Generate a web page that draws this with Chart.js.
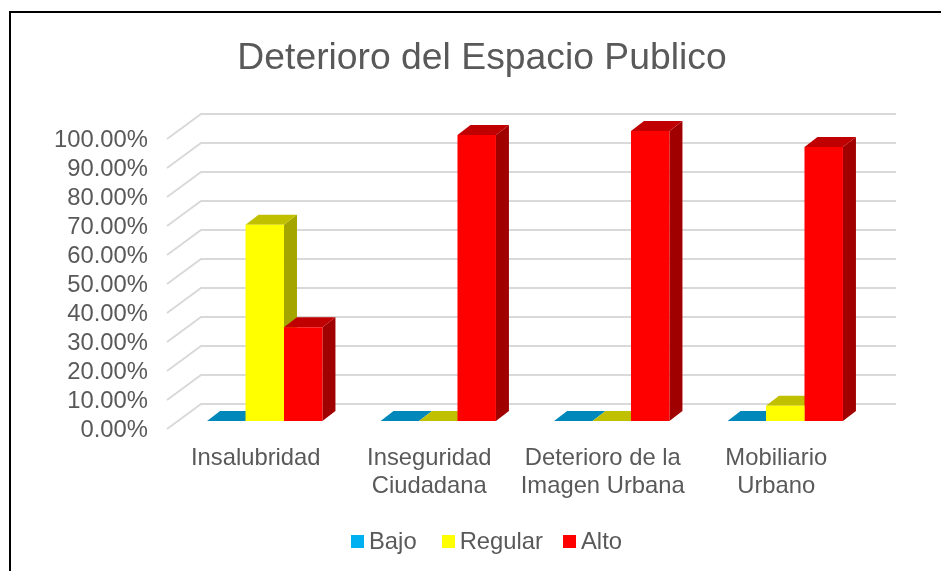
<!DOCTYPE html>
<html>
<head>
<meta charset="utf-8">
<title>Deterioro del Espacio Publico</title>
<script src="https://cdn.jsdelivr.net/npm/chart.js@4"></script>
<style>
  html, body { margin: 0; padding: 0; background: #fff; overflow: hidden; }
  #frame { position: absolute; left: 9px; top: 11px; width: 932px; height: 560px; border-top: 2px solid #000; border-left: 2px solid #000; }
  #chart { position: absolute; left: 0; top: 0; }
  #legend { position: absolute; left: 351px; top: 527px; display: flex; font: 23.8px "Liberation Sans", Arial, sans-serif; color: #595959; }
  #legend div { display: flex; align-items: center; gap: 5px; margin-right: 25px; }
  #legend div:nth-child(2) { margin-right: 20px; }
  #legend i { display: block; width: 13px; height: 13px; }
</style>
</head>
<body>
<div id="frame"></div>
<canvas id="chart" width="941" height="571"></canvas>
<div id="legend"></div>
<script>
const categories = ['Insalubridad', ['Inseguridad', 'Ciudadana'], ['Deterioro de la', 'Imagen Urbana'], ['Mobiliario', 'Urbano']];
const bajo = [0, 0, 0, 0];
const regular = [67.7, 0, 0, 5.3];
const alto = [32.3, 98.6, 100, 94.5];
const seriesNames = ['Bajo', 'Regular', 'Alto'];

const frontColors = ['#00B0F0', '#FFFF00', '#FF0000'];
const topColors = ['#0088BA', '#C0C000', '#C00000'];
const sideColors = ['#006F9A', '#A5A500', '#A00000'];

const fontName = '"Liberation Sans", Arial, sans-serif';
const textColor = '#595959';

// how far the bars and the back wall are pushed for the fake 3D
const barDepthX = 13;
const barDepthY = 10;

const wallPlugin = {
  id: 'wall',
  // y labels need a wide scale box, so the title is moved back over the frame centre
  afterLayout(chart) {
    chart.titleBlock.left += 21;
    chart.titleBlock.right += 21;
  },
  beforeDatasetsDraw(chart) {
    const ctx = chart.ctx;
    const yScale = chart.scales.y;
    const left = chart.chartArea.left;
    const right = chart.chartArea.right;

    ctx.save();
    ctx.strokeStyle = '#D9D9D9';
    ctx.lineWidth = 2;
    yScale.ticks.forEach((tick, i) => {
      const y = yScale.getPixelForTick(i);
      ctx.beginPath();
      ctx.moveTo(left - 11, y + 8);
      ctx.lineTo(left + 23, y - 17);
      ctx.lineTo(right + 24, y - 17);
      ctx.stroke();
    });

    // top and side faces, left to right so the next bar covers the previous side
    chart.data.datasets.forEach((ds, d) => {
      chart.getDatasetMeta(d).data.forEach(bar => {
        const x1 = bar.x - bar.width / 2;
        const x2 = bar.x + bar.width / 2;
        ctx.fillStyle = sideColors[d];
        ctx.beginPath();
        ctx.moveTo(x2, bar.base);
        ctx.lineTo(x2 + barDepthX, bar.base - barDepthY);
        ctx.lineTo(x2 + barDepthX, bar.y - barDepthY);
        ctx.lineTo(x2, bar.y);
        ctx.closePath();
        if (bar.base - bar.y > 0) ctx.fill();

        ctx.fillStyle = topColors[d];
        ctx.beginPath();
        ctx.moveTo(x1, bar.y);
        ctx.lineTo(x1 + barDepthX, bar.y - barDepthY);
        ctx.lineTo(x2 + barDepthX, bar.y - barDepthY);
        ctx.lineTo(x2, bar.y);
        ctx.closePath();
        ctx.fill();
      });
    });
    ctx.restore();
  }
};

new Chart(document.getElementById('chart'), {
  type: 'bar',
  data: {
    labels: categories,
    datasets: [bajo, regular, alto].map((values, i) => ({
      label: seriesNames[i],
      data: values,
      backgroundColor: frontColors[i],
      borderWidth: 0,
      barPercentage: 1,
      categoryPercentage: 0.665
    }))
  },
  options: {
    responsive: false,
    animation: false,
    events: [],
    layout: { padding: { left: 50, right: 69, top: 36.6, bottom: 60 } },
    plugins: {
      legend: { display: false },
      tooltip: { enabled: false },
      title: {
        display: true,
        text: 'Deterioro del Espacio Publico',
        color: textColor,
        font: { family: fontName, size: 37.3, weight: 'normal' },
        padding: { top: 0, bottom: 49.6 }
      }
    },
    scales: {
      x: {
        grid: { display: false, drawTicks: false },
        border: { display: false },
        afterFit(scale) { scale.height = 90; },
        ticks: {
          color: textColor,
          font: { family: fontName, size: 23.8 },
          padding: 23,
          labelOffset: -9,
          maxRotation: 0,
          autoSkip: false
        }
      },
      y: {
        min: 0,
        max: 100,
        grid: { display: false, drawTicks: false },
        border: { display: false },
        afterFit(scale) { scale.width = 128; },
        ticks: {
          stepSize: 10,
          color: textColor,
          font: { family: fontName, size: 23.8 },
          padding: 30,
          labelOffset: 9,
          autoSkip: false,
          callback: value => value.toFixed(2) + '%'
        }
      }
    }
  },
  plugins: [wallPlugin]
});

const legend = document.getElementById('legend');
seriesNames.forEach((name, i) => {
  const item = document.createElement('div');
  const box = document.createElement('i');
  box.style.background = frontColors[i];
  item.appendChild(box);
  item.appendChild(document.createTextNode(name));
  legend.appendChild(item);
});
</script>
</body>
</html>
